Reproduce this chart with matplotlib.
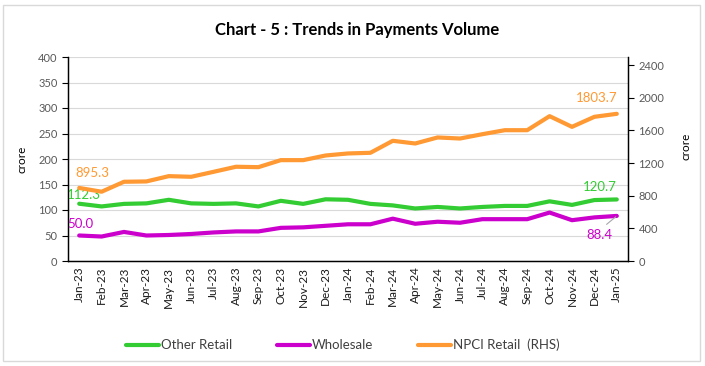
import matplotlib
matplotlib.use("Agg")
import matplotlib.pyplot as plt
from matplotlib.patches import Rectangle

plt.rcParams['font.family'] = ['Lato', 'DejaVu Sans']

months = ["Jan-23", "Feb-23", "Mar-23", "Apr-23", "May-23", "Jun-23", "Jul-23", "Aug-23",
          "Sep-23", "Oct-23", "Nov-23", "Dec-23", "Jan-24", "Feb-24", "Mar-24", "Apr-24",
          "May-24", "Jun-24", "Jul-24", "Aug-24", "Sep-24", "Oct-24", "Nov-24", "Dec-24", "Jan-25"]

other_retail = [112.3, 107, 112, 113, 120, 113, 112, 113, 107, 118, 112, 121, 120,
                112, 109, 103, 106, 103, 106, 108, 108, 117, 110, 119.5, 120.7]
wholesale = [50.0, 48, 57, 50, 51, 53, 56, 58, 58, 65, 66, 69, 72,
             72, 83, 73, 77, 75, 82, 82, 82, 95, 80, 85.5, 88.4]
npci_retail = [895.3, 849, 971, 975, 1040, 1032, 1093, 1155, 1150, 1236, 1236, 1293, 1318,
               1326, 1473, 1440, 1514, 1501, 1554, 1603, 1603, 1775, 1644, 1767, 1803.7]

left_ticks = [0, 50, 100, 150, 200, 250, 300, 350, 400]
right_ticks = [0, 400, 800, 1200, 1600, 2000, 2400]

GREEN = "#33CC33"
MAGENTA = "#CC00CC"
ORANGE = "#FF9933"
TICKC = "#595959"

fig = plt.figure(figsize=(7.05, 3.66), dpi=100)
fig.patches.append(Rectangle((3 / 705, 5 / 366), 697 / 705, 356 / 366, transform=fig.transFigure,
                             fill=False, edgecolor="#d9d9d9", lw=1.0))

ax = fig.add_axes([68 / 705, 1 - 261 / 366, 560 / 705, 204 / 366])
ax2 = ax.twinx()

x = list(range(len(months)))
l1, = ax.plot(x, other_retail, color=GREEN, lw=3.0, solid_capstyle='round', label="Other Retail")
l2, = ax.plot(x, wholesale, color=MAGENTA, lw=3.0, solid_capstyle='round', label="Wholesale")
l3, = ax2.plot(x, npci_retail, color=ORANGE, lw=3.0, solid_capstyle='round', label="NPCI Retail  (RHS)")

ax.set_xlim(-0.5, len(months) - 0.5)
ax.set_ylim(0, 400)
ax2.set_ylim(0, 2500)
ax.set_yticks(left_ticks)
ax2.set_yticks(right_ticks)
ax.set_xticks(x)
ax.set_xticklabels(months, rotation=90, fontsize=8.5, color="#1a1a1a")
ax.tick_params(axis='x', length=0, pad=4)
ax.tick_params(axis='y', length=4, width=0.8, labelsize=8, labelcolor=TICKC, color="#000000")
ax2.tick_params(axis='y', length=4, width=0.8, labelsize=8, labelcolor=TICKC, color="#000000")

ax.grid(axis='y', color="#d9d9d9", lw=0.8)
ax.set_axisbelow(True)
for a in (ax, ax2):
    a.spines['top'].set_visible(False)
    for s in ('left', 'right', 'bottom'):
        a.spines[s].set_color("#000000")
        a.spines[s].set_linewidth(0.9)

ax.set_ylabel("crore", fontsize=8.5, color="#000000")
ax2.set_ylabel("crore", fontsize=8.5, color="#000000")
ax.yaxis.set_label_coords(-41 / 560, 0.5)
ax2.yaxis.set_label_coords(1 + 52 / 560, 0.56)

fig.text(357 / 705, 1 - 30 / 366, "Chart - 5 : Trends in Payments Volume", ha='center', va='center',
         fontsize=12, fontweight='bold', color="#000000")

# data labels
ax2.annotate(f"{npci_retail[0]:.1f}", (0, npci_retail[0]), xytext=(13, 15), textcoords='offset pixels',
             ha='center', va='center', fontsize=9.5, color=ORANGE)
ax.annotate(f"{other_retail[0]:.1f}", (0, other_retail[0]), xytext=(5, 9), textcoords='offset pixels',
            ha='center', va='center', fontsize=9.5, color=GREEN)
ax.annotate(f"{wholesale[0]:.1f}", (0, wholesale[0]), xytext=(1, 12), textcoords='offset pixels',
            ha='center', va='center', fontsize=9.5, color=MAGENTA)
n = len(months) - 1
ax2.annotate(f"{npci_retail[n]:.1f}", (n, npci_retail[n]), xytext=(-20, 16), textcoords='offset pixels',
             ha='center', va='center', fontsize=9.5, color=ORANGE)
ax.annotate(f"{other_retail[n]:.1f}", (n, other_retail[n]), xytext=(-17, 12), textcoords='offset pixels',
            ha='center', va='center', fontsize=9.5, color=GREEN)
ax.annotate(f"{wholesale[n]:.1f}", (n, wholesale[n]), xytext=(-17, -19), textcoords='offset pixels',
            ha='center', va='center', fontsize=9.5, color=MAGENTA,
            arrowprops=dict(arrowstyle='-', color="#a6a6a6", lw=0.8, shrinkA=2, shrinkB=1, relpos=(0.55, 1.0)))

leg = fig.legend(handles=[l1, l2, l3], loc='center', bbox_to_anchor=(343 / 705, 1 - 345 / 366), ncol=3,
                 frameon=False, fontsize=9.5, handlelength=2.5, handletextpad=0.15, columnspacing=3.4)
for t in leg.get_texts():
    t.set_color("#404040")

fig.savefig("out.png", dpi=100)
